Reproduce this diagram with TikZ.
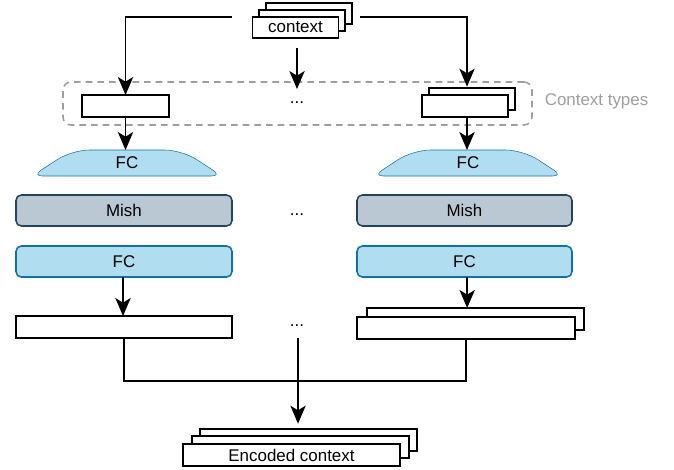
\documentclass[tikz,border=0pt]{standalone}
\usepackage{fontspec}
\setmainfont{Liberation Sans}
\usetikzlibrary{arrows.meta,calc,backgrounds}
\definecolor{fcfill}{HTML}{B1DDF0}
\definecolor{fcdraw}{HTML}{10739E}
\definecolor{mishfill}{HTML}{BAC8D3}
\definecolor{mishdraw}{HTML}{23445D}
\definecolor{dgray}{HTML}{9E9E9E}
\tikzset{
  txt/.style={font=\fontsize{12.7}{15}\selectfont},
  box/.style={txt,draw=black,fill=white,inner sep=0pt,outer sep=0pt},
  fcbox/.style={txt,draw=fcdraw,fill=fcfill,rounded corners=4pt,inner sep=0pt,outer sep=0pt},
  mishbox/.style={txt,draw=mishdraw,fill=mishfill,rounded corners=4pt,inner sep=0pt,outer sep=0pt},
  fctrap/.style={txt,inner sep=0pt,outer sep=0pt},
  trapline/.style={draw=fcdraw,fill=fcfill},
  typesbox/.style={draw=dgray,dash pattern=on 5pt off 3.75pt,rounded corners=6pt,inner sep=0pt},
  graytxt/.style={txt,text=dgray,inner sep=0pt},
  arr/.style={-{Stealth[length=13.5pt,width=11.5pt,inset=3.5pt]}}
}
\begin{document}
\begin{tikzpicture}[x=0.75pt,y=-0.75pt,line width=1.15pt]
\useasboundingbox (0,0) rectangle (674,469);

% context types group
\node[typesbox,minimum width=351.75pt,minimum height=32.25pt] (types) at (297.5,103.5) {};
\node[graytxt,anchor=west] (typeslbl) at (544,101) {Context types};

% context stack
\node[box,minimum width=64.5pt,minimum height=15.75pt] (ctx3) at (309,13.5) {};
\node[box,minimum width=64.5pt,minimum height=15.75pt] (ctx2) at (302,20.5) {};
\node[box,minimum width=64.5pt,minimum height=15.75pt] (ctx) at (295.5,27.5) {context};

% context type boxes
\node[box,minimum width=65.25pt,minimum height=16.5pt] (t1) at (125.5,106) {};
\node[box,minimum width=64.5pt,minimum height=16.5pt] (t2b) at (472,99) {};
\node[box,minimum width=64.5pt,minimum height=16.5pt] (t2) at (465,106) {};

% left column
\node[fctrap,minimum width=142.5pt,minimum height=19.5pt] (fc1) at (127,163) {FC};
\node[mishbox,minimum width=162pt,minimum height=23.25pt] (mish1) at (124,210.5) {Mish};
\node[fcbox,minimum width=162pt,minimum height=23.25pt] (fcb1) at (124,261.5) {FC};
\node[box,minimum width=162pt,minimum height=16.5pt] (o1) at (124,327) {};

% right column
\node[fctrap,minimum width=142.5pt,minimum height=19.5pt] (fc2) at (468,163) {FC};
\node[mishbox,minimum width=161.25pt,minimum height=23.25pt] (mish2) at (464.5,210.5) {Mish};
\node[fcbox,minimum width=161.25pt,minimum height=23.25pt] (fcb2) at (464.5,261.5) {FC};
\node[box,minimum width=162.75pt,minimum height=16.5pt] (o2b) at (475.5,319) {};
\node[box,minimum width=163.5pt,minimum height=16.5pt] (o2) at (466,328) {};

% trapezoid outlines behind the FC labels
\begin{scope}[on background layer]
\draw[trapline] ([xshift=3pt]fc1.south) [rounded corners=8pt] -- (fc1.south west) [rounded corners=13pt] -- ([xshift=30pt]fc1.north west) -- ([xshift=-30pt]fc1.north east) [rounded corners=8pt] -- (fc1.south east) -- cycle;
\draw[trapline] ([xshift=3pt]fc2.south) [rounded corners=8pt] -- (fc2.south west) [rounded corners=13pt] -- ([xshift=30pt]fc2.north west) -- ([xshift=-30pt]fc2.north east) [rounded corners=8pt] -- (fc2.south east) -- cycle;
\end{scope}

% dots
\node[txt,inner sep=0pt] (d1) at (297,103) {...};
\node[txt,inner sep=0pt] (d2) at (297,215) {...};
\node[txt,inner sep=0pt] (d3) at (297,326) {...};

% encoded context stack
\node[box,minimum width=162.75pt,minimum height=16.5pt] (enc3) at (308.5,440) {};
\node[box,minimum width=162.75pt,minimum height=16.5pt] (enc2) at (300.5,447) {};
\node[box,minimum width=162.75pt,minimum height=16.5pt] (enc) at (291.5,455) {Encoded context};

% connectors
\coordinate (cl) at (232,17);
\coordinate (cr) at (360,17);
\coordinate (cm) at (297,48);
\coordinate (cmend) at (297,89);
\coordinate (merge) at (298,381);
\draw[arr] (cl) -| (t1.north);
\draw[arr] (cr) -| ([xshift=-3.75pt,yshift=1pt]t2b.north);
\draw[arr] (cm) -- (cmend);
\draw[arr] (t1.south) -- (t1.south |- fc1.north);
\draw[arr] ([xshift=1.5pt]t2.south) -- ([xshift=1.5pt]t2.south |- fc2.north);
\draw[arr] ([xshift=-0.75pt]fcb1.south) -- ([xshift=-0.75pt]fcb1.south |- o1.north);
\draw[arr] ([xshift=2pt]fcb2.south) -- ([xshift=2pt]fcb2.south |- o2b.north);
\draw (o1.south) |- (merge) -| (o2.south);
\draw[arr,shorten >=4pt] (merge |- o1.south) -- (merge |- enc3.north);
\end{tikzpicture}
\end{document}
